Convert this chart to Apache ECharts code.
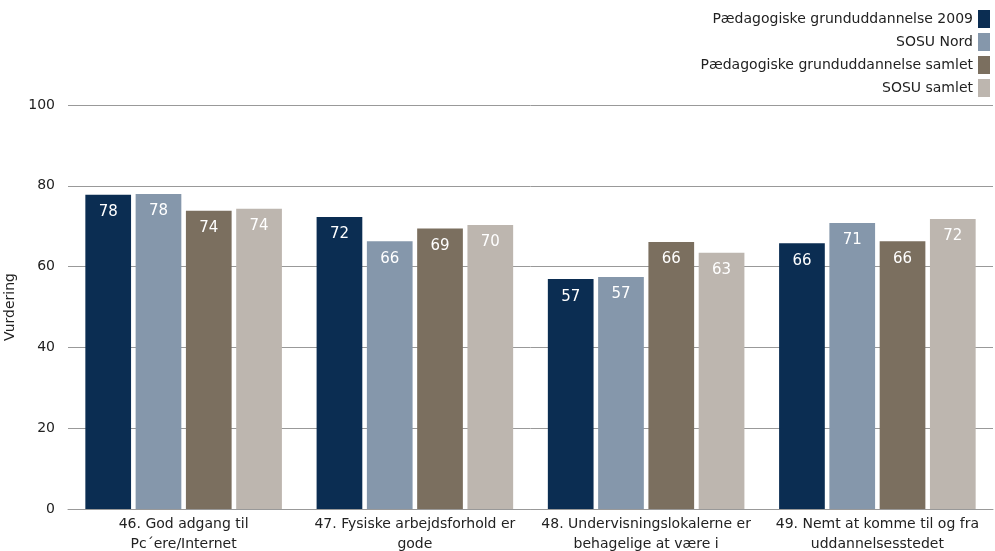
<!DOCTYPE html>
<html><head><meta charset="utf-8">
<script src="https://cdn.jsdelivr.net/npm/echarts@6/dist/echarts.min.js"></script>
<style>html,body{margin:0;padding:0;background:#fff}#c{width:995px;height:551px}</style>
</head><body><div id="c"></div>
<script>
const categories = ["46. God adgang til\nPc´ere/Internet","47. Fysiske arbejdsforhold er\ngode","48. Undervisningslokalerne er\nbehagelige at være i","49. Nemt at komme til og fra\nuddannelsesstedet"];
const seriesNames = ["Pædagogiske grunduddannelse 2009","SOSU Nord","Pædagogiske grunduddannelse samlet","SOSU samlet"];
const pgu2009 = [77.8, 72.3, 56.9, 65.8];
const sosuNord = [78.0, 66.3, 57.4, 70.8];
const pguSamlet = [73.8, 69.4, 66.1, 66.3];
const sosuSamlet = [74.3, 70.3, 63.4, 71.8];
const yTicks = [0, 20, 40, 60, 80, 100];
const colors = ["#0b2d52","#8597ab","#7b6f5f","#bdb6af"];
const font = "DejaVu Sans, Verdana, sans-serif";
const values = [pgu2009, sosuNord, pguSamlet, sosuSamlet];
const chart = echarts.init(document.getElementById('c'), null, {renderer:'canvas'});
chart.setOption({
  animation:false,
  textStyle:{fontFamily:font},
  legend:{
    orient:'vertical', right:0, top:5, align:'right',
    itemWidth:12, itemHeight:18, itemGap:5,
    icon:'rect',
    textStyle:{fontFamily:font, fontSize:14, color:'#222'},
    data: seriesNames
  },
  grid:{left:68, right:2, top:105, bottom:42, containLabel:false, outerBoundsMode:'none'},
  xAxis:{
    type:'category', data:categories,
    axisLine:{lineStyle:{color:'#999', width:1}},
    axisTick:{show:false},
    axisLabel:{fontFamily:font, fontSize:14, color:'#222', lineHeight:20, margin:5, interval:0}
  },
  yAxis:{
    type:'value', min:0, max:100, interval:20,
    name:'Vurdering', nameLocation:'middle', nameGap:45, nameRotate:90,
    nameTextStyle:{fontFamily:font, fontSize:14, color:'#222'},
    axisLine:{show:false}, axisTick:{show:false},
    axisLabel:{fontFamily:font, fontSize:14, color:'#222', margin:13,
      formatter: v => yTicks.includes(v) ? String(v) : ''},
    splitLine:{lineStyle:{color:'#999', width:1}}
  },
  series: seriesNames.map((n,i)=>({
    name:n, type:'bar', data:values[i],
    barGap:'10%', barCategoryGap:'15%',
    itemStyle:{color:colors[i]},
    label:{show:true, position:'insideTop', distance:10, color:'#fff',
      fontFamily:font, fontSize:15, formatter: p => Math.round(p.value)}
  }))
});
</script></body></html>
